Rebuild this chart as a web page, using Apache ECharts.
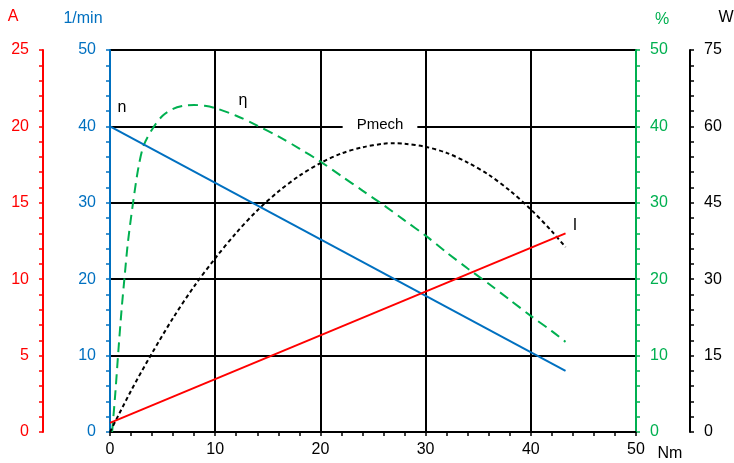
<!DOCTYPE html>
<html><head><meta charset="utf-8">
<script src="https://cdn.jsdelivr.net/npm/echarts@6/dist/echarts.min.js"></script>
<style>html,body{margin:0;padding:0;background:#fff}#c{width:734px;height:463px}</style>
</head><body><div id="c"></div>
<script>
const FONT = '"Liberation Sans", Arial, sans-serif';

// Speed n (1/min) vs torque (Nm)
const speedTorque = [0, 43.3];
const speedValues = [40, 8];
// Current I (A)
const currentTorque = [0, 43.3];
const currentValues = [0.6, 13.0];
// Efficiency η (%)
const effTorque = [0.2, 0.5, 0.8, 1.1, 1.4, 1.7, 2.2, 2.7, 3.2, 4, 5, 6, 7, 8, 9, 10, 12, 14, 16, 18, 20, 22, 24, 26, 28, 30, 32, 34, 36, 38, 40, 42, 43.3];
const effValues = [0, 5, 10.7, 16, 20.5, 24.8, 30.1, 34.6, 37.5, 39.6, 41.4, 42.3, 42.7, 42.8, 42.7, 42.4, 41.4, 40.1, 38.7, 37.1, 35.4, 33.5, 31.6, 29.7, 27.7, 25.7, 23.5, 21.4, 19.4, 17.3, 15.2, 13.2, 11.8];
// Mechanical power Pmech (W)
const powerTorque = [0, 2, 4, 6, 8, 10, 12, 14, 16, 18, 20, 22, 24, 26, 27, 28, 30, 32, 34, 36, 38, 40, 42, 43.3];
const powerValues = [0, 8.1, 15.5, 22.4, 28.6, 34.1, 39.1, 43.5, 47.2, 50.3, 52.8, 54.7, 55.9, 56.6, 56.7, 56.6, 56.0, 54.8, 52.9, 50.5, 47.4, 43.7, 39.4, 36.3];

const xTicks = [0, 10, 20, 30, 40, 50];

const BLUE = '#0070C0', RED = '#FF0000', GREEN = '#00B050', BLACK = '#000000';

function pairs(xs, ys) { return xs.map((x, i) => [x, ys[i]]); }

function yAxis(color, position, offset, max, interval, split) {
  return {
    type: 'value', position: position, offset: offset, min: 0, max: max, interval: interval,
    axisLine: { show: true, onZero: false, lineStyle: { color: color, width: 2 } },
    axisTick: { show: true, length: 4, lineStyle: { color: color, width: 1.5 } },
    minorTick: { show: true, splitNumber: 5, length: 4, lineStyle: { color: color, width: 1.5 } },
    axisLabel: { color: color, fontSize: 16, fontFamily: FONT, margin: 14 },
    splitLine: { show: split, showMinLine: false, lineStyle: { color: BLACK, width: 2 } },
    minorSplitLine: { show: false }
  };
}

const chart = echarts.init(document.getElementById('c'), null, { renderer: 'canvas' });
const txt = (t, x, y, color, size, extra) => ({
  type: 'text', x: x, y: y, z: 100,
  style: Object.assign({ text: t, fill: color, font: size + 'px ' + FONT, align: 'center', verticalAlign: 'middle' }, extra || {})
});

chart.setOption({
  backgroundColor: '#fff',
  animation: false,
  grid: { left: 110, right: 98, top: 50, bottom: 31, containLabel: false },
  xAxis: {
    type: 'value', min: xTicks[0], max: xTicks[xTicks.length - 1], interval: 10,
    axisLine: { show: true, onZero: false, lineStyle: { color: BLACK, width: 2 } },
    axisTick: { show: true, length: 4, lineStyle: { color: BLACK, width: 1.5 } },
    minorTick: { show: true, splitNumber: 5, length: 4, lineStyle: { color: BLACK, width: 1.5 } },
    axisLabel: { color: BLACK, fontSize: 16, fontFamily: FONT, margin: 10 },
    splitLine: { show: true, showMinLine: false, showMaxLine: false, lineStyle: { color: BLACK, width: 2 } }
  },
  yAxis: [
    yAxis(BLUE, 'left', 0, 50, 10, true),
    yAxis(RED, 'left', 67, 25, 5, false),
    yAxis(GREEN, 'right', 0, 50, 10, false),
    yAxis(BLACK, 'right', 54, 75, 15, false)
  ],
  series: [
    { name: 'n', type: 'line', yAxisIndex: 0, data: pairs(speedTorque, speedValues), showSymbol: false,
      lineStyle: { color: BLUE, width: 2 }, z: 5 },
    { name: 'I', type: 'line', yAxisIndex: 1, data: pairs(currentTorque, currentValues), showSymbol: false,
      lineStyle: { color: RED, width: 2 }, z: 5 },
    { name: 'η', type: 'line', yAxisIndex: 2, data: pairs(effTorque, effValues), showSymbol: false, smooth: 0.3,
      lineStyle: { color: GREEN, width: 2, type: [10, 6] }, z: 4 },
    { name: 'Pmech', type: 'line', yAxisIndex: 3, data: pairs(powerTorque, powerValues), showSymbol: false, smooth: 0.3,
      lineStyle: { color: BLACK, width: 2, type: [4, 3] }, z: 4 }
  ],
  graphic: [
    txt('A', 13, 17, RED, 16),
    txt('1/min', 83, 19, BLUE, 16),
    txt('%', 662, 20, GREEN, 16),
    txt('W', 726, 18, BLACK, 16),
    txt('Nm', 670, 454, BLACK, 16),
    txt('n', 122, 108, BLACK, 16),
    txt('η', 243, 101, BLACK, 16),
    txt('Pmech', 380, 125, BLACK, 15, { backgroundColor: '#fff', padding: [3, 14] }),
    txt('I', 575, 226, BLACK, 16)
  ]
});
</script>
</body></html>
